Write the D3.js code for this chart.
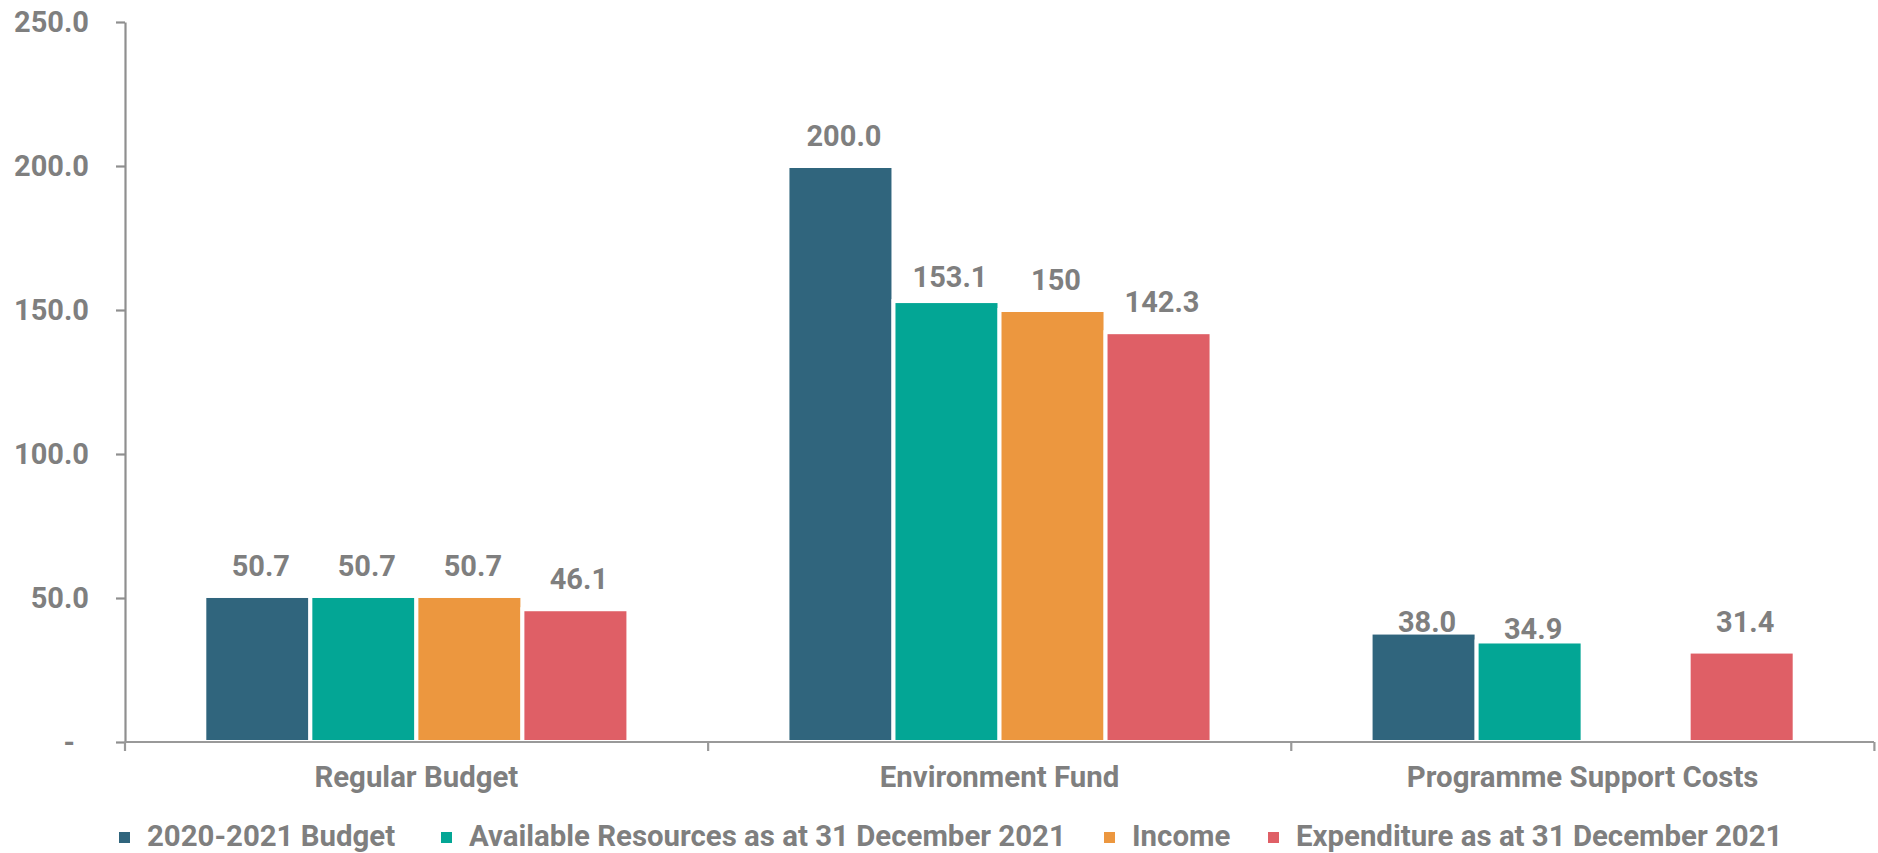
<!DOCTYPE html>
<html>
<head>
<meta charset="utf-8">
<script src="https://cdn.jsdelivr.net/npm/d3@7/dist/d3.min.js"></script>
<style>
  html, body { margin: 0; padding: 0; background: #ffffff; }
  svg { display: block; }
  text { font-family: Roboto, "Noto Sans", sans-serif; font-weight: 700; fill: #7f7f7f; }
</style>
</head>
<body>
<svg id="chart" width="1878" height="853"></svg>
<script>
// ---- Data ----
const categories = ["Regular Budget", "Environment Fund", "Programme Support Costs"];
const seriesNames = ["2020-2021 Budget", "Available Resources as at 31 December 2021", "Income", "Expenditure as at 31 December 2021"];
const budget2020 = [50.7, 200.0, 38.0];
const availableResources = [50.7, 153.1, 34.9];
const income = [50.7, 150, null];
const expenditure = [46.1, 142.3, 31.4];
const budget2020Labels = ["50.7", "200.0", "38.0"];
const availableLabels = ["50.7", "153.1", "34.9"];
const incomeLabels = ["50.7", "150", ""];
const expenditureLabels = ["46.1", "142.3", "31.4"];
const yTicks = [0, 50, 100, 150, 200, 250];
const colors = ["#30657d", "#03a695", "#ec973f", "#df5f66"];

const seriesValues = [budget2020, availableResources, income, expenditure];
const seriesLabels = [budget2020Labels, availableLabels, incomeLabels, expenditureLabels];

// ---- Layout ----
const svg = d3.select("#chart");
const plotLeft = 125, plotRight = 1874, plotTop = 22, plotBottom = 742;
const legendItemX = [119, 441, 1104, 1268];

const x0 = d3.scaleBand().domain(categories).range([plotLeft, plotRight]).paddingInner(0.2727).paddingOuter(0.136);
const x1 = d3.scaleBand().domain(d3.range(seriesNames.length)).range([0, x0.bandwidth()]).padding(0);
const y = d3.scaleLinear().domain([0, 250]).range([plotBottom, plotTop]);

// bars
const records = [];
categories.forEach((c, ci) => {
  seriesValues.forEach((vals, si) => {
    records.push({ cat: c, ci, si, value: vals[ci], label: seriesLabels[si][ci] });
  });
});

const barG = svg.append("g");
barG.selectAll("rect")
  .data(records.filter(d => d.value != null))
  .join("rect")
  .attr("x", d => x0(d.cat) + x1(d.si))
  .attr("y", d => y(d.value))
  .attr("width", x1.bandwidth())
  .attr("height", d => y(0) - y(d.value))
  .attr("fill", d => colors[d.si])
  .attr("stroke", "#ffffff")
  .attr("stroke-width", 4);

// label vertical adjustments observed in the original (manually nudged labels)
function labelNudge(d) {
  if (d.ci === 2 && d.si === 0) return 19;
  if (d.ci === 2 && d.si === 1) return 18;
  if (d.ci === 1 && d.si === 1) return 6;
  return 0;
}

svg.append("g").selectAll("text")
  .data(records.filter(d => d.value != null && d.label))
  .join("text")
  .attr("x", d => x0(d.cat) + x1(d.si) + x1.bandwidth() / 2 + 3.5)
  .attr("y", d => y(d.value) - 20 + labelNudge(d))
  .attr("text-anchor", "middle")
  .style("font-size", "29px")
  .text(d => d.label);

// y axis
const yAxis = d3.axisLeft(y)
  .tickValues(yTicks)
  .tickSize(9)
  .tickSizeOuter(0)
  .tickPadding(27)
  .tickFormat(v => v === 0 ? "-" : d3.format(".1f")(v));

const yG = svg.append("g").attr("transform", `translate(${plotLeft},0)`).call(yAxis);
yG.select(".domain").attr("stroke", "#8f8f8f").attr("stroke-width", 2.2);
yG.selectAll(".tick line").attr("stroke", "#8f8f8f").attr("stroke-width", 2.2);
yG.selectAll(".tick text")
  .attr("fill", "#7f7f7f")
  .style("font-family", "Roboto, sans-serif")
  .style("font-weight", "700")
  .style("font-size", "29px")
  .attr("dx", v => v === 0 ? -14 : 0);

// x axis baseline
const xG = svg.append("g");
xG.append("line")
  .attr("x1", plotLeft).attr("x2", plotRight)
  .attr("y1", y(0)).attr("y2", y(0))
  .attr("stroke", "#999999").attr("stroke-width", 2.2);
// boundary ticks between categories
const boundaries = [plotLeft].concat(categories.map(c => x0(c) - x0.step() * x0.paddingOuter() + x0.step()));
xG.selectAll("line.bt")
  .data(boundaries)
  .join("line")
  .attr("class", "bt")
  .attr("x1", d => d).attr("x2", d => d)
  .attr("y1", y(0)).attr("y2", y(0) + 9)
  .attr("stroke", "#999999").attr("stroke-width", 2.2);

// category labels
xG.selectAll("text")
  .data(categories)
  .join("text")
  .attr("x", c => x0(c) + x0.bandwidth() / 2)
  .attr("y", 787)
  .attr("text-anchor", "middle")
  .style("font-size", "29.4px")
  .text(c => c);

// legend
const legend = svg.append("g");
seriesNames.forEach((name, i) => {
  const lx = legendItemX[i];
  legend.append("rect")
    .attr("x", lx).attr("y", 832)
    .attr("width", 11).attr("height", 11)
    .attr("fill", colors[i]);
  legend.append("text")
    .attr("x", lx + 28).attr("y", 846)
    .style("font-size", "29.4px")
    .text(name);
});
</script>
</body>
</html>
